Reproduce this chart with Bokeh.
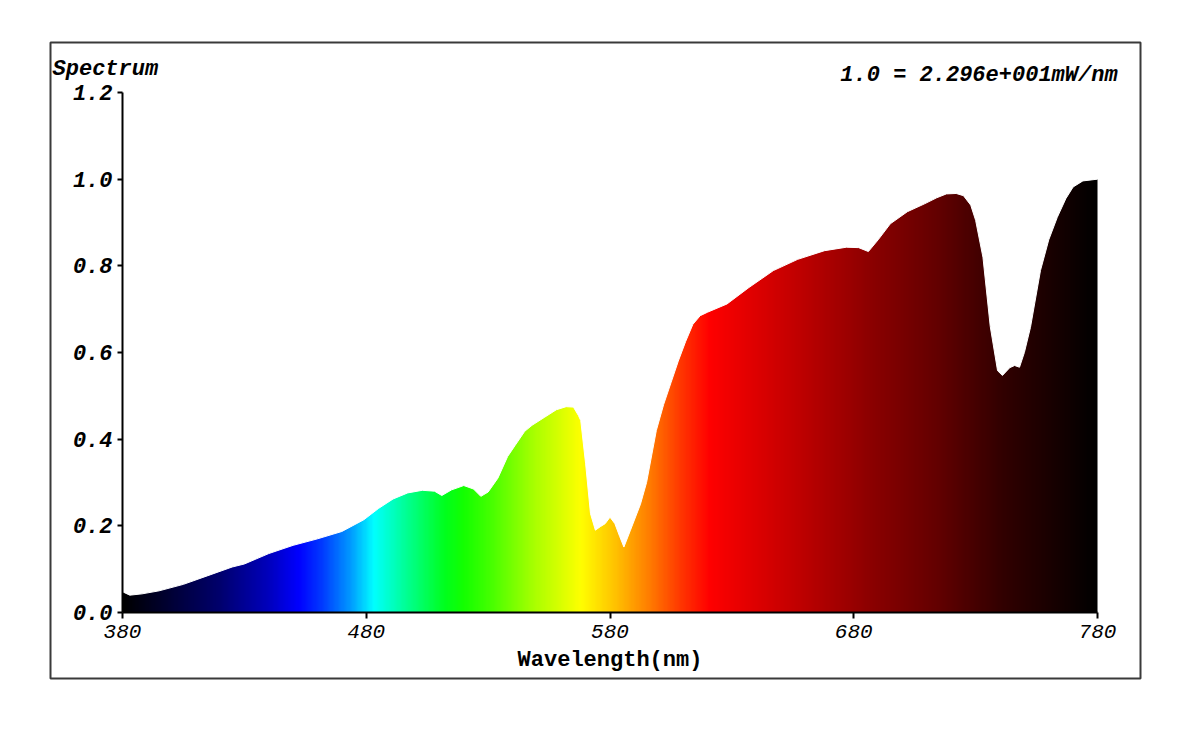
import numpy as np
from bokeh.plotting import figure
from bokeh.models import Range1d, FixedTicker, NumeralTickFormatter, Label
from bokeh.embed import file_html
from bokeh.resources import INLINE

# ---- data ----
wavelength = [380, 383, 388, 395, 405, 415, 425, 430, 440, 450, 460, 470, 479, 485, 491,
              497, 503, 508, 511, 515, 520, 524, 527, 530, 534, 538, 541, 545, 548, 553,
              558, 562, 565, 567, 568, 570, 572, 574, 576, 578, 580, 582, 584, 585.7, 588.4,
              592.5, 595, 599, 602, 605, 608, 611, 614, 617, 620, 628, 637, 647, 657,
              668, 677, 682, 686, 690, 695, 702, 709, 714, 718, 722, 725, 728, 730, 733,
              736, 739, 741, 744, 746, 748, 750, 752.5, 756.6, 760, 763.5, 767, 770, 774, 780]
intensity = [0.048, 0.040, 0.043, 0.050, 0.065, 0.085, 0.105, 0.112, 0.136, 0.155, 0.170, 0.187, 0.214, 0.240, 0.262,
             0.276, 0.282, 0.280, 0.270, 0.283, 0.293, 0.285, 0.268, 0.278, 0.310, 0.360, 0.385, 0.418, 0.432, 0.450,
             0.468, 0.475, 0.474, 0.455, 0.443, 0.343, 0.228, 0.190, 0.198, 0.205, 0.220, 0.205, 0.175, 0.151, 0.190,
             0.250, 0.300, 0.420, 0.480, 0.530, 0.580, 0.625, 0.665, 0.685, 0.693, 0.712, 0.750, 0.789, 0.815,
             0.835, 0.843, 0.842, 0.833, 0.860, 0.897, 0.925, 0.943, 0.957, 0.966, 0.967, 0.962, 0.940, 0.905, 0.820,
             0.660, 0.558, 0.547, 0.565, 0.570, 0.566, 0.600, 0.658, 0.789, 0.860, 0.912, 0.955, 0.982, 0.996, 1.000]

x_ticks = [380, 480, 580, 680, 780]
y_ticks = [0.0, 0.2, 0.4, 0.6, 0.8, 1.0, 1.2]
x_label = "Wavelength(nm)"
title_text = "Spectrum"
scale_text = "1.0 = 2.296e+001mW/nm"

# ---- colour stops of the spectral fill (style) ----
stop_nm = [380, 400, 420, 440, 452, 462, 473, 483, 496, 512, 520, 531, 549, 568, 583, 597,
           610, 621, 638, 650, 687, 714, 741, 769, 780]
stop_rgb = [(0, 0, 0), (0, 0, 55), (0, 0, 110), (0, 0, 190), (0, 0, 255), (0, 60, 255),
            (0, 150, 255), (0, 255, 255), (0, 255, 150), (0, 255, 30), (20, 255, 0), (70, 255, 0),
            (170, 255, 0), (255, 255, 0), (255, 190, 0), (255, 120, 0), (255, 50, 0), (255, 0, 0),
            (225, 0, 0), (205, 0, 0), (140, 0, 0), (100, 0, 0), (50, 0, 0), (15, 0, 0), (0, 0, 0)]

FONT = "Liberation Mono"

p = figure(frame_width=1090, frame_height=636,
           min_border_left=50, min_border_top=42, min_border_right=20, min_border_bottom=20,
           x_range=Range1d(350.462, 797.64), y_range=Range1d(-0.1523, 1.3154),
           output_backend="svg", toolbar_location=None,
           background_fill_color="white", border_fill_color="white")
p.grid.visible = False
p.outline_line_color = "#3a3a3a"
p.outline_line_width = 2

# gradient image covering the plot area, then mask above the curve in white
ncol = 800
cols = np.linspace(stop_nm[0], stop_nm[-1], ncol)
r = np.interp(cols, stop_nm, [c[0] for c in stop_rgb])
g = np.interp(cols, stop_nm, [c[1] for c in stop_rgb])
b = np.interp(cols, stop_nm, [c[2] for c in stop_rgb])
img = np.zeros((1, ncol), dtype=np.uint32)
view = img.view(dtype=np.uint8).reshape((1, ncol, 4))
view[0, :, 0] = r.astype(np.uint8)
view[0, :, 1] = g.astype(np.uint8)
view[0, :, 2] = b.astype(np.uint8)
view[0, :, 3] = 255
p.image_rgba(image=[img], x=x_ticks[0], y=0, dw=x_ticks[-1] - x_ticks[0], dh=y_ticks[-1])

mask_x = list(wavelength) + [wavelength[-1], wavelength[0]]
mask_y = list(intensity) + [y_ticks[-1] + 0.002, y_ticks[-1] + 0.002]
p.patch(mask_x, mask_y, fill_color="white", line_color="white", line_width=1)

# axes
for ax in (p.xaxis[0], p.yaxis[0]):
    ax.axis_line_color = "black"
    ax.axis_line_width = 2
    ax.major_tick_line_color = "black"
    ax.major_tick_line_width = 2
    ax.major_tick_in = 0
    ax.minor_tick_line_color = None
    ax.major_label_text_font = FONT
    ax.major_label_text_color = "black"

p.xaxis.fixed_location = 0
p.xaxis.bounds = (x_ticks[0], x_ticks[-1])
p.xaxis.ticker = FixedTicker(ticks=x_ticks)
p.xaxis.major_tick_out = 6
p.xaxis.major_label_standoff = 6
p.xaxis.major_label_text_font_size = "21px"
p.xaxis.major_label_text_font_style = "italic"
p.xaxis.axis_label = x_label
p.xaxis.axis_label_text_font = FONT
p.xaxis.axis_label_text_font_size = "22px"
p.xaxis.axis_label_text_font_style = "bold"
p.xaxis.axis_label_text_color = "black"
p.xaxis.axis_label_standoff = 7

p.yaxis.fixed_location = x_ticks[0]
p.yaxis.bounds = (y_ticks[0], y_ticks[-1])
p.yaxis.ticker = FixedTicker(ticks=y_ticks)
p.yaxis.formatter = NumeralTickFormatter(format="0.0")
p.yaxis.major_tick_out = 5
p.yaxis.major_label_standoff = 5
p.yaxis.major_label_text_font_size = "22px"
p.yaxis.major_label_text_font_style = "bold italic"

p.add_layout(Label(x=351.3, y=1.253, text=title_text, text_font=FONT, text_font_size="22px",
                   text_font_style="bold italic", text_baseline="middle", text_align="left",
                   text_color="black"))
p.add_layout(Label(x=674.5, y=1.239, text=scale_text, text_font=FONT, text_font_size="22px",
                   text_font_style="bold italic", text_baseline="middle", text_align="left",
                   text_color="black"))

open("out.html", "w").write(file_html(p, INLINE))
